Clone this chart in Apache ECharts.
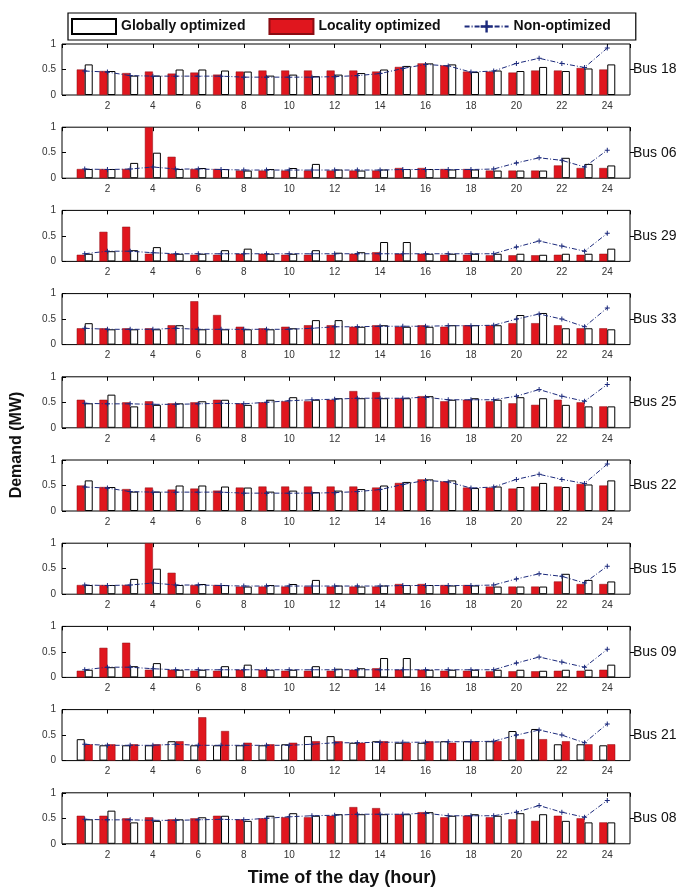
<!DOCTYPE html>
<html>
<head>
<meta charset="utf-8">
<script src="https://cdn.jsdelivr.net/npm/echarts@6/dist/echarts.min.js"></script>
<style>
  html, body { margin: 0; padding: 0; background: #fff; }
  #chart { width: 697px; height: 890px; }
</style>
</head>
<body>
<div id="chart"></div>
<script>
// Hours of the day shown on every panel
const hours = [1, 2, 3, 4, 5, 6, 7, 8, 9, 10, 11, 12, 13, 14, 15, 16, 17, 18, 19, 20, 21, 22, 23, 24];
const demandTicks = [0, 0.5, 1];

// Demand per bus (MW): globally optimized, locality optimized, non-optimized
const bus18Global = [0.60, 0.47, 0.38, 0.38, 0.50, 0.50, 0.48, 0.46, 0.38, 0.40, 0.37, 0.40, 0.43, 0.50, 0.57, 0.62, 0.60, 0.45, 0.48, 0.47, 0.55, 0.47, 0.52, 0.60];
const bus18Local  = [0.50, 0.47, 0.43, 0.46, 0.42, 0.44, 0.40, 0.46, 0.48, 0.48, 0.48, 0.48, 0.48, 0.46, 0.55, 0.62, 0.58, 0.46, 0.46, 0.44, 0.48, 0.48, 0.53, 0.50];
const bus18Base   = [0.47, 0.45, 0.38, 0.37, 0.37, 0.37, 0.37, 0.35, 0.35, 0.35, 0.35, 0.36, 0.38, 0.42, 0.52, 0.60, 0.57, 0.45, 0.47, 0.62, 0.72, 0.62, 0.54, 0.92];

const bus06Global = [0.18, 0.18, 0.30, 0.50, 0.18, 0.20, 0.18, 0.15, 0.18, 0.20, 0.28, 0.17, 0.15, 0.17, 0.18, 0.18, 0.17, 0.17, 0.15, 0.15, 0.15, 0.40, 0.28, 0.25];
const bus06Local  = [0.18, 0.18, 0.18, 1.00, 0.42, 0.18, 0.18, 0.15, 0.15, 0.15, 0.15, 0.15, 0.15, 0.15, 0.20, 0.20, 0.18, 0.18, 0.15, 0.15, 0.15, 0.25, 0.20, 0.20];
const bus06Base   = [0.18, 0.17, 0.18, 0.22, 0.18, 0.18, 0.17, 0.16, 0.16, 0.16, 0.16, 0.16, 0.16, 0.16, 0.17, 0.17, 0.17, 0.17, 0.18, 0.30, 0.40, 0.35, 0.22, 0.55];

const bus29Global = [0.15, 0.20, 0.22, 0.28, 0.15, 0.15, 0.22, 0.25, 0.15, 0.15, 0.22, 0.17, 0.18, 0.38, 0.38, 0.15, 0.15, 0.15, 0.15, 0.15, 0.13, 0.15, 0.15, 0.25];
const bus29Local  = [0.13, 0.58, 0.68, 0.15, 0.15, 0.13, 0.13, 0.15, 0.15, 0.13, 0.13, 0.13, 0.15, 0.18, 0.15, 0.15, 0.13, 0.13, 0.12, 0.12, 0.12, 0.13, 0.13, 0.15];
const bus29Base   = [0.15, 0.20, 0.20, 0.17, 0.15, 0.15, 0.15, 0.15, 0.15, 0.15, 0.15, 0.15, 0.15, 0.15, 0.15, 0.15, 0.15, 0.15, 0.15, 0.28, 0.40, 0.30, 0.20, 0.55];

const bus33Global = [0.42, 0.30, 0.30, 0.30, 0.38, 0.30, 0.30, 0.30, 0.30, 0.32, 0.48, 0.48, 0.35, 0.38, 0.35, 0.35, 0.38, 0.38, 0.38, 0.58, 0.62, 0.32, 0.32, 0.30];
const bus33Local  = [0.32, 0.32, 0.32, 0.32, 0.38, 0.85, 0.58, 0.35, 0.32, 0.35, 0.38, 0.38, 0.35, 0.38, 0.35, 0.38, 0.35, 0.38, 0.38, 0.42, 0.42, 0.38, 0.32, 0.32];
const bus33Base   = [0.32, 0.30, 0.30, 0.30, 0.32, 0.30, 0.30, 0.30, 0.30, 0.30, 0.32, 0.35, 0.35, 0.36, 0.36, 0.36, 0.37, 0.37, 0.38, 0.50, 0.60, 0.50, 0.35, 0.72];

const bus25Global = [0.48, 0.65, 0.42, 0.45, 0.48, 0.52, 0.55, 0.45, 0.55, 0.60, 0.55, 0.58, 0.58, 0.58, 0.58, 0.62, 0.55, 0.58, 0.55, 0.60, 0.58, 0.45, 0.42, 0.42];
const bus25Local  = [0.55, 0.55, 0.50, 0.52, 0.48, 0.50, 0.55, 0.48, 0.50, 0.52, 0.52, 0.55, 0.72, 0.70, 0.58, 0.62, 0.52, 0.55, 0.52, 0.48, 0.45, 0.55, 0.50, 0.42];
const bus25Base   = [0.48, 0.47, 0.47, 0.46, 0.46, 0.47, 0.48, 0.47, 0.50, 0.53, 0.55, 0.56, 0.58, 0.58, 0.58, 0.60, 0.55, 0.55, 0.55, 0.62, 0.75, 0.62, 0.52, 0.85];

const bus22Global = [0.60, 0.47, 0.38, 0.38, 0.50, 0.50, 0.48, 0.46, 0.38, 0.40, 0.37, 0.40, 0.43, 0.50, 0.57, 0.62, 0.60, 0.45, 0.48, 0.47, 0.55, 0.47, 0.52, 0.60];
const bus22Local  = [0.50, 0.47, 0.43, 0.46, 0.42, 0.44, 0.40, 0.46, 0.48, 0.48, 0.48, 0.48, 0.48, 0.46, 0.55, 0.62, 0.58, 0.46, 0.46, 0.44, 0.48, 0.48, 0.53, 0.50];
const bus22Base   = [0.47, 0.45, 0.38, 0.37, 0.37, 0.37, 0.37, 0.35, 0.35, 0.35, 0.35, 0.36, 0.38, 0.42, 0.52, 0.60, 0.57, 0.45, 0.47, 0.62, 0.72, 0.62, 0.54, 0.92];

const bus15Global = [0.18, 0.18, 0.30, 0.50, 0.18, 0.20, 0.18, 0.15, 0.18, 0.20, 0.28, 0.17, 0.15, 0.17, 0.18, 0.18, 0.17, 0.17, 0.15, 0.15, 0.15, 0.40, 0.28, 0.25];
const bus15Local  = [0.18, 0.18, 0.18, 1.00, 0.42, 0.18, 0.18, 0.15, 0.15, 0.15, 0.15, 0.15, 0.15, 0.15, 0.20, 0.20, 0.18, 0.18, 0.15, 0.15, 0.15, 0.25, 0.20, 0.20];
const bus15Base   = [0.18, 0.17, 0.18, 0.22, 0.18, 0.18, 0.17, 0.16, 0.16, 0.16, 0.16, 0.16, 0.16, 0.16, 0.17, 0.17, 0.17, 0.17, 0.18, 0.30, 0.40, 0.35, 0.22, 0.55];

const bus09Global = [0.15, 0.20, 0.22, 0.28, 0.15, 0.15, 0.22, 0.25, 0.15, 0.15, 0.22, 0.17, 0.18, 0.38, 0.38, 0.15, 0.15, 0.15, 0.15, 0.15, 0.13, 0.15, 0.15, 0.25];
const bus09Local  = [0.13, 0.58, 0.68, 0.15, 0.15, 0.13, 0.13, 0.15, 0.15, 0.13, 0.13, 0.13, 0.15, 0.18, 0.15, 0.15, 0.13, 0.13, 0.12, 0.12, 0.12, 0.13, 0.13, 0.15];
const bus09Base   = [0.15, 0.20, 0.20, 0.17, 0.15, 0.15, 0.15, 0.15, 0.15, 0.15, 0.15, 0.15, 0.15, 0.15, 0.15, 0.15, 0.15, 0.15, 0.15, 0.28, 0.40, 0.30, 0.20, 0.55];

const bus21Global = [0.42, 0.30, 0.30, 0.30, 0.38, 0.30, 0.30, 0.30, 0.30, 0.32, 0.48, 0.48, 0.35, 0.38, 0.35, 0.35, 0.38, 0.38, 0.38, 0.58, 0.62, 0.32, 0.32, 0.30];
const bus21Local  = [0.32, 0.32, 0.32, 0.32, 0.38, 0.85, 0.58, 0.35, 0.32, 0.35, 0.38, 0.38, 0.35, 0.38, 0.35, 0.38, 0.35, 0.38, 0.38, 0.42, 0.42, 0.38, 0.32, 0.32];
const bus21Base   = [0.32, 0.30, 0.30, 0.30, 0.32, 0.30, 0.30, 0.30, 0.30, 0.30, 0.32, 0.35, 0.35, 0.36, 0.36, 0.36, 0.37, 0.37, 0.38, 0.50, 0.60, 0.50, 0.35, 0.72];

const bus08Global = [0.48, 0.65, 0.42, 0.45, 0.48, 0.52, 0.55, 0.45, 0.55, 0.60, 0.55, 0.58, 0.58, 0.58, 0.58, 0.62, 0.55, 0.58, 0.55, 0.60, 0.58, 0.45, 0.42, 0.42];
const bus08Local  = [0.55, 0.55, 0.50, 0.52, 0.48, 0.50, 0.55, 0.48, 0.50, 0.52, 0.52, 0.55, 0.72, 0.70, 0.58, 0.62, 0.52, 0.55, 0.52, 0.48, 0.45, 0.55, 0.50, 0.42];
const bus08Base   = [0.48, 0.47, 0.47, 0.46, 0.46, 0.47, 0.48, 0.47, 0.50, 0.53, 0.55, 0.56, 0.58, 0.58, 0.58, 0.60, 0.55, 0.55, 0.55, 0.62, 0.75, 0.62, 0.52, 0.85];

// One panel per bus, top to bottom; globalFirst puts the white bar on the left
const panels = [
  { bus: 'Bus 18', global: bus18Global, local: bus18Local, base: bus18Base, globalFirst: false },
  { bus: 'Bus 06', global: bus06Global, local: bus06Local, base: bus06Base, globalFirst: false },
  { bus: 'Bus 29', global: bus29Global, local: bus29Local, base: bus29Base, globalFirst: false },
  { bus: 'Bus 33', global: bus33Global, local: bus33Local, base: bus33Base, globalFirst: false },
  { bus: 'Bus 25', global: bus25Global, local: bus25Local, base: bus25Base, globalFirst: false },
  { bus: 'Bus 22', global: bus22Global, local: bus22Local, base: bus22Base, globalFirst: false },
  { bus: 'Bus 15', global: bus15Global, local: bus15Local, base: bus15Base, globalFirst: false },
  { bus: 'Bus 09', global: bus09Global, local: bus09Local, base: bus09Base, globalFirst: false },
  { bus: 'Bus 21', global: bus21Global, local: bus21Local, base: bus21Base, globalFirst: true },
  { bus: 'Bus 08', global: bus08Global, local: bus08Local, base: bus08Base, globalFirst: false }
];

const FONT = '"Liberation Sans", Arial, sans-serif';
const RED = '#e0161e';
const LINE = '#1c2a7c';
const PLUS = 'path://M4,0H6V4H10V6H6V10H4V6H0V4H4Z';

const panelLeft = 62, panelWidth = 568, panelTop0 = 44, panelStep = 83.2, panelHeight = 51;

const grid = [], xAxis = [], yAxis = [], series = [];

const pairs = (vals) => hours.map((h, k) => [h, vals[k]]);
const hourLabel = (v) => (v > 0 && v < 25 ? String(v) : '');
const hiddenLine = { show: false, onZero: false };

panels.forEach((p, i) => {
  grid.push({
    left: panelLeft, width: panelWidth,
    top: panelTop0 + panelStep * i, height: panelHeight,
    show: true, borderColor: '#000', borderWidth: 1, backgroundColor: '#fff'
  });
  // bottom hour axis with labels
  xAxis.push({
    gridIndex: i, type: 'value', position: 'bottom', min: 0, max: 25, interval: 2,
    axisLine: hiddenLine, axisTick: { show: false }, splitLine: { show: false },
    axisLabel: { fontFamily: FONT, fontSize: 10, color: '#333', margin: 6, formatter: hourLabel }
  });
  // top hour axis: inward ticks only
  xAxis.push({
    gridIndex: i, type: 'value', position: 'top', min: 0, max: 25, interval: 2,
    axisLine: hiddenLine, splitLine: { show: false }, axisLabel: { show: false },
    axisTick: { show: true, inside: true, length: 4, lineStyle: { color: '#000', width: 1 } }
  });
  // demand axis on the left
  yAxis.push({
    gridIndex: i, type: 'value', position: 'left', min: 0, max: 1, interval: 0.5,
    axisLine: hiddenLine, splitLine: { show: false },
    axisTick: { show: true, inside: true, length: 4, lineStyle: { color: '#000' } },
    axisLabel: { fontFamily: FONT, fontSize: 10, color: '#333', margin: 6, customValues: demandTicks }
  });
  // bus name on the right
  yAxis.push({
    gridIndex: i, type: 'value', position: 'right', min: 0, max: 1, interval: 0.5,
    axisLine: hiddenLine, splitLine: { show: false },
    axisTick: { show: true, inside: false, length: 4, lineStyle: { color: '#000' }, customValues: [0.5] },
    axisLabel: { fontFamily: FONT, fontSize: 14, color: '#111', margin: 3, customValues: [0.5], formatter: () => p.bus }
  });

  const localBar = {
    type: 'bar', name: 'Locality optimized', xAxisIndex: 2 * i, yAxisIndex: 2 * i,
    data: pairs(p.local), barWidth: 8, barGap: '0%',
    itemStyle: { color: RED, borderColor: '#8a0c12', borderWidth: 0.5 }
  };
  const globalBar = {
    type: 'bar', name: 'Globally optimized', xAxisIndex: 2 * i, yAxisIndex: 2 * i,
    data: pairs(p.global), barWidth: 8, barGap: '0%',
    itemStyle: { color: '#fff', borderColor: '#000', borderWidth: 1 }
  };
  if (p.globalFirst) series.push(globalBar, localBar); else series.push(localBar, globalBar);
  series.push({
    type: 'line', name: 'Non-optimized', xAxisIndex: 2 * i, yAxisIndex: 2 * i,
    data: pairs(p.base), z: 5,
    symbol: PLUS, symbolSize: 5,
    itemStyle: { color: LINE },
    lineStyle: { color: LINE, width: 1, type: [5, 2, 1, 2] }
  });
});

const chart = echarts.init(document.getElementById('chart'), null, { renderer: 'canvas' });
chart.setOption({
  animation: false,
  backgroundColor: '#fff',
  legend: {
    data: [
      { name: 'Globally optimized', icon: 'rect' },
      { name: 'Locality optimized', icon: 'rect' },
      { name: 'Non-optimized' }
    ],
    left: 68, top: 13,
    orient: 'horizontal',
    itemWidth: 44, itemHeight: 15, itemGap: 23,
    padding: [5, 25, 5, 3],
    borderColor: '#000', borderWidth: 1.2, backgroundColor: '#fff',
    textStyle: { fontFamily: FONT, fontSize: 14, fontWeight: 'bold', color: '#111' },
    selectedMode: false
  },
  grid, xAxis, yAxis, series,
  graphic: [
    {
      type: 'text', x: 17, y: 445, rotation: Math.PI / 2,
      style: { text: 'Demand (MW)', font: 'bold 16px ' + FONT, fill: '#111', textAlign: 'center', textVerticalAlign: 'middle' }
    },
    {
      type: 'text', x: 342, y: 878,
      style: { text: 'Time of the day (hour)', font: 'bold 18px ' + FONT, fill: '#111', textAlign: 'center', textVerticalAlign: 'middle' }
    }
  ]
});
</script>
</body>
</html>
